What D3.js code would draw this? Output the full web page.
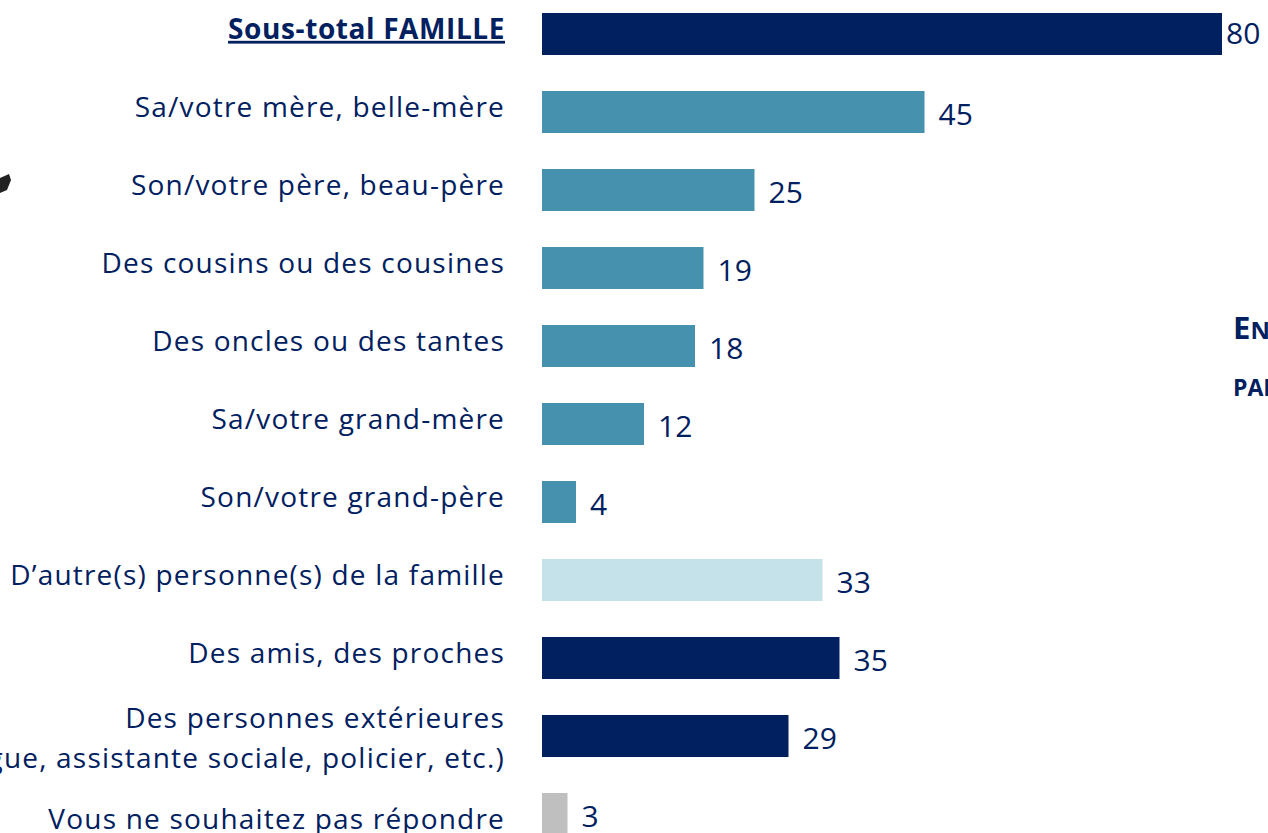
<!DOCTYPE html>
<html>
<head>
<meta charset="utf-8">
<script src="https://cdn.jsdelivr.net/npm/d3@7"></script>
<style>
  body { margin: 0; background: #fff; overflow: hidden; }
  svg { display: block; font-family: "Open Sans", Lato, sans-serif; }
</style>
</head>
<body>
<div id="chart"></div>
<script>
'use strict';

var categories = [
    'Sous-total FAMILLE',
    'Sa/votre mère, belle-mère',
    'Son/votre père, beau-père',
    'Des cousins ou des cousines',
    'Des oncles ou des tantes',
    'Sa/votre grand-mère',
    'Son/votre grand-père',
    'D\u2019autre(s) personne(s) de la famille',
    'Des amis, des proches',
    'Des personnes extérieures|(psychologue, assistante sociale, policier, etc.)',
    'Vous ne souhaitez pas répondre'
];
var values = [80, 45, 25, 19, 18, 12, 4, 33, 35, 29, 3];
var groups = ['total', 'famille', 'famille', 'famille', 'famille', 'famille', 'famille', 'autre', 'hors', 'hors', 'nsp'];

var width = 1268, height = 833;
var navy = '#002060';

var color = d3.scaleOrdinal()
    .domain(['total', 'famille', 'autre', 'hors', 'nsp'])
    .range([navy, '#4591AE', '#C5E1E9', navy, '#BFBFBF']);

var svg = d3.select('#chart').append('svg')
    .attr('width', width)
    .attr('height', height);

var x = d3.scaleLinear().domain([0, 80]).range([542, 1222]);
var y = d3.scalePoint().domain(d3.range(categories.length)).range([34, 814]);
var barH = 42;
var last = categories.length - 1;

var rows = svg.append('g')
    .selectAll('g')
    .data(values)
    .enter().append('g')
    .attr('transform', function(d, i) { return 'translate(0,' + y(i) + ')'; });

rows.append('rect')
    .attr('x', x(0))
    .attr('y', -barH / 2)
    .attr('width', function(d) { return x(d) - x(0); })
    .attr('height', barH)
    .attr('fill', function(d, i) { return color(groups[i]); });

// value labels
rows.append('text')
    .attr('x', function(d, i) { return x(d) + (i === 0 ? 4 : 14); })
    .attr('y', function(d, i) { return i === 0 ? -1 : 2; })
    .attr('dy', '0.35em')
    .attr('font-size', 30)
    .attr('fill', navy)
    .text(function(d) { return d; });

// category labels
rows.each(function(d, i) {
    var lines = categories[i].split('|');
    var t = d3.select(this).append('text')
        .attr('x', 505)
        .attr('text-anchor', 'end')
        .attr('font-size', 28)
        .attr('letter-spacing', i === 0 ? 0.6 : 1.2)
        .attr('fill', navy)
        .attr('font-weight', i === 0 ? 'bold' : null)
        .attr('text-decoration', i === 0 ? 'underline' : null);
    lines.forEach(function(l, k) {
        t.append('tspan')
            .attr('x', 505)
            .attr('y', lines.length === 1 ? (i === last ? 5 : -5) : -18 + k * 40)
            .attr('dy', '0.35em')
            .text(l);
    });
});

// side title, cut by the right edge
var side = svg.append('text')
    .attr('x', 1233)
    .attr('y', 339)
    .attr('fill', navy)
    .attr('font-weight', 'bold');
side.append('tspan').attr('font-size', 31).text('E');
side.append('tspan').attr('font-size', 24).text('NSEMBLE');

svg.append('text')
    .attr('x', 1233)
    .attr('y', 396)
    .attr('fill', navy)
    .attr('font-weight', 'bold')
    .attr('font-size', 23)
    .text('PAR');

// bit of an icon at the left edge
svg.append('path')
    .attr('d', 'M0,178 L9,174 L11,180 L7,190 L0,193 Z')
    .attr('fill', '#222');
</script>
</body>
</html>
